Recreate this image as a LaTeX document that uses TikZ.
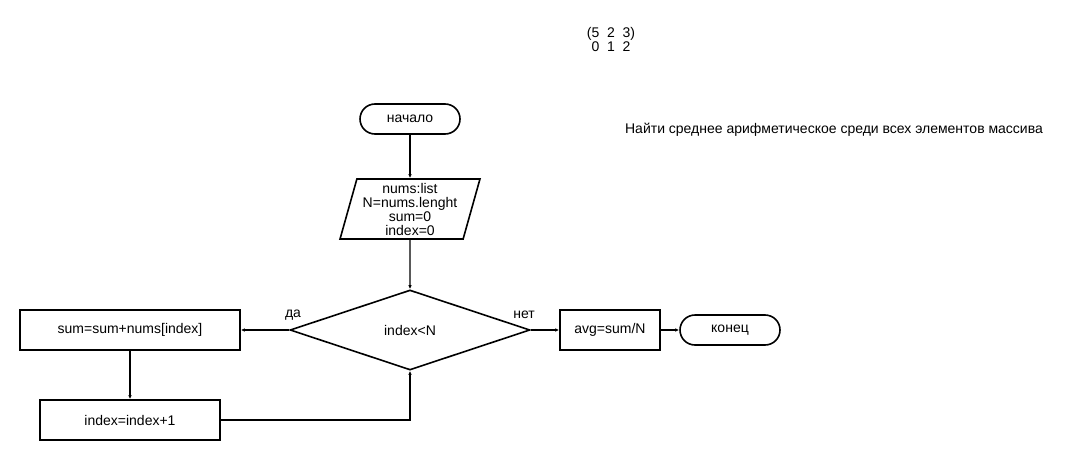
\documentclass[tikz,border=0pt]{standalone}
\usepackage{fontspec}
\setmainfont{Liberation Sans}
\usetikzlibrary{shapes.geometric,arrows.meta}
\begin{document}
\begin{tikzpicture}[x=1pt,y=-1pt,
  every node/.style={font=\fontsize{14}{14}\selectfont, inner sep=0pt},
  outl/.style={draw, line width=1.6pt},
  procbox/.style={outl, rectangle, minimum height=40pt},
  term/.style={outl, rounded corners=15pt, minimum width=100pt, minimum height=30pt},
  conn/.style={line width=1.4pt, -{Latex[length=4pt,width=3.5pt]}},
  lbl/.style={font=\fontsize{14}{14}\selectfont}
]
\useasboundingbox (0,0) rectangle (1070,460);
\node[term] (start) at (410,119) {начало};
\node[outl, trapezium, trapezium left angle=74, trapezium right angle=106,
      trapezium stretches=true, minimum width=140pt, minimum height=60pt, align=center,
      font=\fontsize{14}{14}\selectfont] (input) at (410,209)
  {nums:list\\N=nums.lenght\\sum=0\\index=0};
\node[outl, diamond, minimum width=240pt, minimum height=80pt, aspect=3] (cond) at (410,330) {index<N};
\node[procbox, minimum width=220pt] (sum) at (130,330) {sum=sum+nums[index]};
\node[procbox, minimum width=180pt] (inc) at (130,420) {index=index+1};
\node[procbox, minimum width=100pt] (avg) at (610,330) {avg=sum/N};
\node[term] (end) at (730,330) {конец};
\coordinate (corner) at (410,420);

\draw[conn] (start) -- (input);
\draw[conn] (input) -- (cond);
\draw[conn] (cond.west) -- (sum.east);
\draw[conn] (cond.east) -- (avg.west);
\draw[conn] (avg) -- (end);
\draw[conn] (sum) -- (inc);
\draw[conn] (inc.east) -- (corner) -- (cond.south);

\node[lbl] (yes) at (293,315) {да};
\node[lbl] (no) at (524,315) {нет};
\node[lbl] (task) at (834,130) {Найти среднее арифметическое среди всех элементов массива};
\node[lbl, align=center] (arr) at (611,39) {(5\ \ 2\ \ 3)\\0\ \ 1\ \ 2};
\end{tikzpicture}
\end{document}
